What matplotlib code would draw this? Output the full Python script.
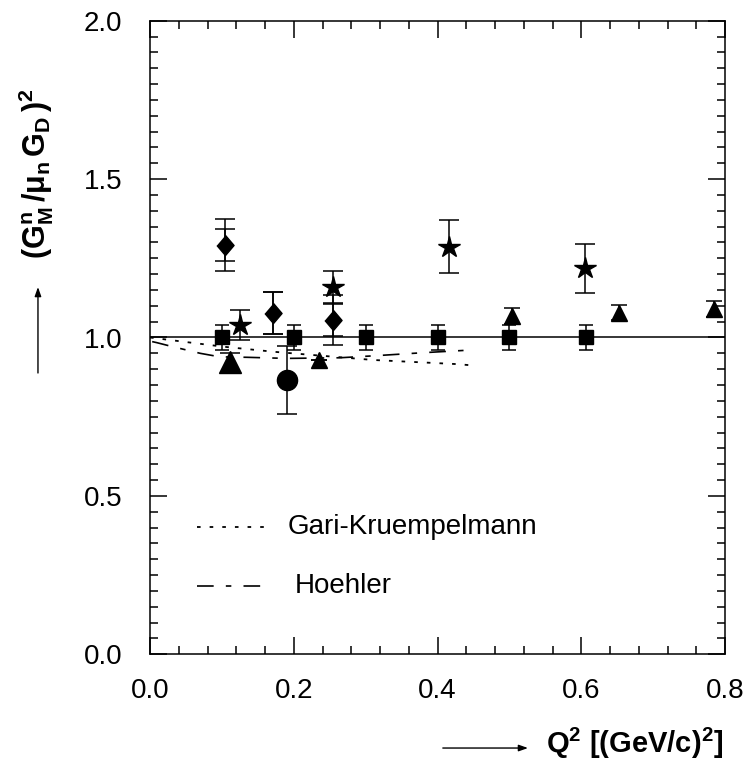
import matplotlib
matplotlib.use('Agg')
import matplotlib.pyplot as plt
from matplotlib.ticker import MultipleLocator

plt.rcParams['font.family'] = ['Liberation Sans', 'DejaVu Sans']
plt.rcParams['mathtext.fontset'] = 'custom'
plt.rcParams['mathtext.rm'] = 'Liberation Sans'
plt.rcParams['mathtext.it'] = 'Liberation Sans:italic'
plt.rcParams['mathtext.bf'] = 'Liberation Sans:bold'

# data
sq_x = [0.100, 0.200, 0.300, 0.400, 0.500, 0.606]
sq_y = [1.000, 1.000, 1.000, 1.000, 1.000, 1.000]
sq_err = [0.040, 0.040, 0.040, 0.040, 0.040, 0.040]

dia_x = [0.104, 0.171, 0.255]
dia_y = [1.292, 1.078, 1.055]
dia_err_stat = [0.050, 0.066, 0.050]
dia_err_tot = [0.083, 0.066, 0.080]

star_x = [0.125, 0.255, 0.416, 0.605]
star_y = [1.040, 1.160, 1.287, 1.218]
star_err = [0.048, 0.050, 0.083, 0.077]

bigtri_x = [0.111]
bigtri_y = [0.922]
bigtri_err = [0.030]

tri_x = [0.235, 0.504, 0.652, 0.784]
tri_y = [0.929, 1.069, 1.078, 1.089]
tri_err = [0.000, 0.025, 0.024, 0.025]

circ_x = [0.190]
circ_y = [0.866]
circ_err = [0.106]

gk_x = [0.000, 0.009, 0.056, 0.102, 0.172, 0.241, 0.311, 0.427, 0.443]
gk_y = [1.000, 0.9975, 0.984, 0.971, 0.955, 0.942, 0.929, 0.916, 0.913]

hoe_x = [0.003, 0.009, 0.028, 0.070, 0.097, 0.135, 0.190, 0.264, 0.310, 0.380, 0.451]
hoe_y = [0.987, 0.984, 0.973, 0.950, 0.939, 0.9375, 0.934, 0.936, 0.942, 0.952, 0.961]

dipole = 1.0

fig = plt.figure(figsize=(7.43, 7.64), dpi=100)
ax = fig.add_axes([150 / 743, 1 - 654.3 / 764, 575 / 743, 633.6 / 764])

dotted = (0, (2.0, 5.0))
dashed = (0, (10, 7.3, 3.3, 7.3))

ax.axhline(dipole, color='black', lw=1.1, zorder=1)
ax.plot(gk_x, gk_y, color='black', lw=1.3, ls=dotted, zorder=1)
ax.plot(hoe_x, hoe_y, color='black', lw=1.2, ls=dashed, zorder=1)

diamond = [(0, 1), (0.85, 0), (0, -1), (-0.85, 0)]
eb = dict(color='black', ecolor='black', elinewidth=1.1, capthick=1.1, ls='none', zorder=3)

ax.errorbar(sq_x, sq_y, yerr=sq_err, fmt='s', ms=10, capsize=4.7, **eb)
ax.errorbar(dia_x, dia_y, yerr=dia_err_tot, fmt='none', capsize=7, **eb)
ax.errorbar(dia_x, dia_y, yerr=dia_err_stat, fmt='o', marker=diamond, ms=14.5, capsize=7, **eb)
ax.errorbar(star_x, star_y, yerr=star_err, fmt='*', ms=16, capsize=7, **eb)
ax.errorbar(bigtri_x, bigtri_y, yerr=bigtri_err, fmt='^', ms=16, capsize=7, **eb)
ax.errorbar(tri_x, tri_y, yerr=tri_err, fmt='^', ms=11, capsize=6, **eb)
ax.errorbar(circ_x, circ_y, yerr=circ_err, fmt='o', ms=14.5, capsize=7, **eb)

ax.set_xlim(0, 0.8)
ax.set_ylim(0, 2.0)
ax.xaxis.set_major_locator(MultipleLocator(0.2))
ax.xaxis.set_minor_locator(MultipleLocator(0.04))
ax.yaxis.set_major_locator(MultipleLocator(0.5))
ax.yaxis.set_minor_locator(MultipleLocator(0.05))
ax.xaxis.set_major_formatter(lambda v, p: f'{v:.1f}')
ax.yaxis.set_major_formatter(lambda v, p: f'{v:.1f}')
ax.tick_params(which='both', direction='in', top=True, right=True, width=1.1, labelsize=20)
ax.tick_params(which='major', length=12)
ax.tick_params(which='minor', length=6)
ax.tick_params(axis='x', pad=17)
ax.tick_params(axis='y', pad=20)
for s in ax.spines.values():
    s.set_linewidth(1.1)

# legend
ax.plot([0.082, 0.202], [0.201, 0.201], transform=ax.transAxes, color='black', lw=1.3, ls=dotted)
ax.plot([0.082, 0.212], [0.108, 0.108], transform=ax.transAxes, color='black', lw=1.2, ls=dashed)
ax.text(0.240, 0.201, 'Gari-Kruempelmann', transform=ax.transAxes, fontsize=20, va='center')
ax.text(0.252, 0.108, 'Hoehler', transform=ax.transAxes, fontsize=20, va='center')

# axis titles with arrows
fig.text(0.973, 0.027, r'$\mathbf{Q^{2}\ [(GeV/c)^{2}]}$', ha='right', va='center', fontsize=21)
fig.text(0.0485, 0.772, r'$\mathbf{(G^{n}_{M}\,/\mu_{n}\,G_{D}\,)^{2}}$', rotation=90,
         ha='center', va='center', fontsize=22)
arrow = dict(arrowstyle='-|>,head_length=0.45,head_width=0.16', lw=1.0, color='black',
             mutation_scale=12, shrinkA=0, shrinkB=0)
ax.annotate('', xy=(0.7106, 0.0209), xytext=(0.596, 0.0209), xycoords='figure fraction',
            arrowprops=arrow)
ax.annotate('', xy=(0.0511, 0.6243), xytext=(0.0511, 0.5118), xycoords='figure fraction',
            arrowprops=arrow)

fig.savefig('out.png', dpi=100)
